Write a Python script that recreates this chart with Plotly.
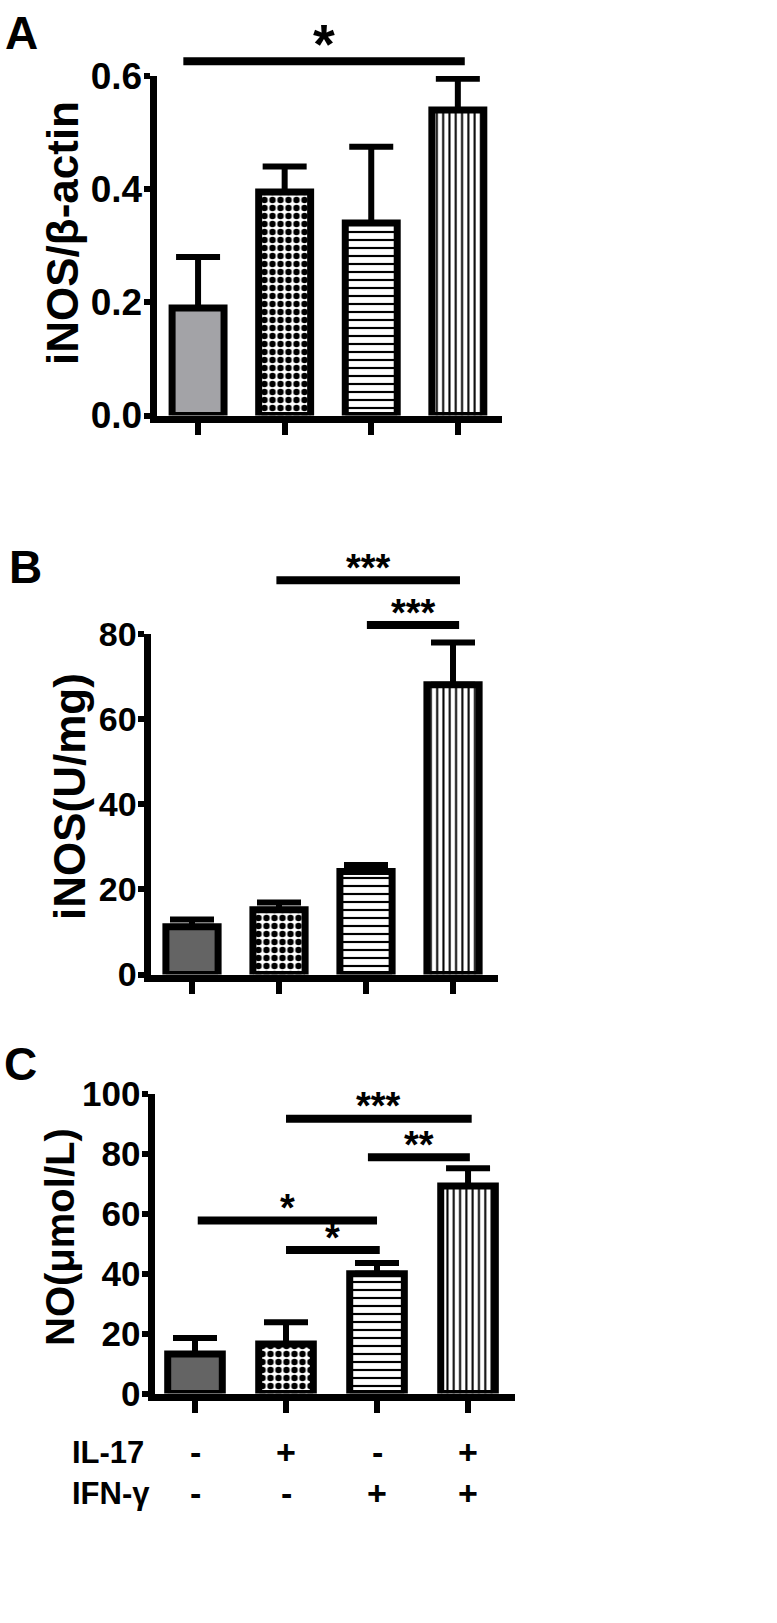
import plotly.graph_objects as go

W, H = 777, 1623

# ---------------- data ----------------
groups = [0, 1, 2, 3]

a_mean = [0.19, 0.395, 0.34, 0.54]
a_err = [0.09, 0.045, 0.135, 0.055]
a_ticks = [0.0, 0.2, 0.4, 0.6]
a_ticktext = ["0.0", "0.2", "0.4", "0.6"]

b_mean = [11.2, 15.2, 24.2, 68.1]
b_err = [1.7, 1.7, 1.5, 9.9]
b_ticks = [0, 20, 40, 60, 80]

c_mean = [13.2, 16.5, 40.0, 69.3]
c_err = [5.3, 7.3, 3.6, 5.9]
c_ticks = [0, 20, 40, 60, 80, 100]

il17 = ["-", "+", "-", "+"]
ifng = ["-", "-", "+", "+"]

# significance brackets: (x start, x end, level in data units, label)
a_sig = [(-0.17, 3.08, 0.626, "*")]
b_sig = [(0.97, 3.08, 92.6, "***"), (2.01, 3.07, 82.1, "***")]
c_sig = [(1.0, 3.04, 91.7, "***"), (1.9, 3.02, 78.9, "**"),
         (0.03, 2.0, 57.8, "*"), (1.0, 2.03, 47.9, "*")]

y_titles = ["iNOS/β-actin", "iNOS(U/mg)", "NO(μmol/L)"]
panel_letters = ["A", "B", "C"]

# ---------------- style ----------------
FONT = "Liberation Sans Narrow, Arial Narrow, Liberation Sans, Arial, sans-serif"
pattern_shapes = ["", ".", "-", "|"]
pattern_sizes = [6, 8, 8, 6.3]
pattern_solid = [0.3, 0.5, 0.27, 0.32]


def fx(px):
    return px / W


def fy(py):
    return 1 - py / H


panels = [
    dict(x=(156.5, 502), y=(76, 415.5), xr=(-0.48, 3.51), ymax=0.6, ticks=a_ticks,
         ticktext=a_ticktext, tfs=37, mean=a_mean, err=a_err, sig=a_sig,
         c1="#a3a3a7", star_fs=56, title_xy=(62, 233), title_fs=44,
         letter_xy=(21, 33)),
    dict(x=(150.5, 498), y=(634, 974.5), xr=(-0.477, 3.517), ymax=80, ticks=b_ticks,
         ticktext=[str(t) for t in b_ticks], tfs=34, mean=b_mean, err=b_err, sig=b_sig,
         c1="#646464", star_fs=38, title_xy=(69, 797), title_fs=44,
         letter_xy=(25, 567)),
    dict(x=(154.5, 515), y=(1094, 1393.5), xr=(-0.445, 3.516), ymax=100, ticks=c_ticks,
         ticktext=[str(t) for t in c_ticks], tfs=35, mean=c_mean, err=c_err, sig=c_sig,
         c1="#646464", star_fs=38, title_xy=(60, 1237), title_fs=40,
         letter_xy=(20, 1064)),
]

fig = go.Figure()
shapes = []
annotations = []

for i, p in enumerate(panels):
    sfx = "" if i == 0 else str(i + 1)
    xname, yname = "x" + sfx, "y" + sfx
    fills = [p["c1"], "white", "white", "white"]
    for g in groups:
        fig.add_trace(go.Bar(
            x=[g], y=[p["mean"][g]], width=0.6,
            xaxis=xname, yaxis=yname,
            marker=dict(
                color=fills[g],
                line=dict(color="black", width=7),
                pattern=dict(shape=pattern_shapes[g], size=pattern_sizes[g],
                             solidity=pattern_solid[g], fgcolor="black",
                             bgcolor=fills[g], fillmode="replace"),
            ),
            error_y=dict(type="data", symmetric=False, array=[p["err"][g]],
                         arrayminus=[0], thickness=6, width=22, color="black"),
            showlegend=False, hoverinfo="skip",
        ))
    fig.layout["xaxis" + sfx] = dict(
        domain=[fx(p["x"][0]), fx(p["x"][1])], range=list(p["xr"]),
        anchor=yname, showline=True, linewidth=7, linecolor="black",
        ticks="outside", ticklen=12, tickwidth=6, tickcolor="black",
        tickvals=groups, showticklabels=False, showgrid=False, zeroline=False,
        fixedrange=True, automargin=False,
    )
    fig.layout["yaxis" + sfx] = dict(
        domain=[fy(p["y"][1]), fy(p["y"][0])], range=[0, p["ymax"]],
        anchor=xname, showline=True, linewidth=7, linecolor="black",
        ticks="outside", ticklen=6, tickwidth=6, tickcolor="black",
        tickvals=p["ticks"], ticktext=p["ticktext"], ticklabelstandoff=-6,
        tickfont=dict(family=FONT, size=p["tfs"], color="black", weight="bold"),
        showgrid=False, zeroline=False, fixedrange=True, automargin=False,
    )
    for (x0, x1, lvl, lab) in p["sig"]:
        yy = lvl / p["ymax"]
        shapes.append(dict(type="line", xref=xname, yref=yname + " domain",
                           x0=x0, x1=x1, y0=yy, y1=yy,
                           line=dict(color="black", width=8)))
        annotations.append(dict(text=lab, xref=xname, yref=yname + " domain",
                                x=(x0 + x1) / 2, y=yy, yanchor="bottom",
                                xanchor="center", showarrow=False,
                                yshift=-p["star_fs"] * 0.28,
                                font=dict(family=FONT, size=p["star_fs"],
                                          color="black", weight="bold")))
    annotations.append(dict(text=y_titles[i], xref="paper", yref="paper",
                            x=fx(p["title_xy"][0]), y=fy(p["title_xy"][1]),
                            xanchor="center", yanchor="middle", textangle=-90,
                            showarrow=False,
                            font=dict(family=FONT, size=p["title_fs"], color="black",
                                      weight="bold")))
    annotations.append(dict(text=panel_letters[i], xref="paper", yref="paper",
                            x=fx(p["letter_xy"][0]), y=fy(p["letter_xy"][1]),
                            xanchor="center", yanchor="middle", showarrow=False,
                            font=dict(family=FONT, size=46, color="black",
                                      weight="bold")))

row_labels = ["IL-17", "IFN-γ"]
row_y = [1452, 1493]
for r, (lab, signs) in enumerate(zip(row_labels, [il17, ifng])):
    annotations.append(dict(text=lab, xref="paper", yref="paper",
                            x=fx(70), y=fy(row_y[r]), xanchor="left",
                            yanchor="middle", showarrow=False,
                            font=dict(family=FONT, size=31, color="black",
                                      weight="bold")))
    for g, s in zip(groups, signs):
        annotations.append(dict(text=s, xref="x3", yref="paper",
                                x=g, y=fy(row_y[r]), xanchor="center",
                                yanchor="middle", showarrow=False,
                                font=dict(family=FONT, size=34, color="black",
                                          weight="bold")))

fig.update_layout(
    width=W, height=H, autosize=False,
    margin=dict(l=0, r=0, t=0, b=0, pad=0, autoexpand=False),
    paper_bgcolor="white", plot_bgcolor="white",
    shapes=shapes, annotations=annotations, barmode="overlay",
)

fig.write_html("out.html", config={"displayModeBar": False},
               post_script="document.body.style.margin='0';")
